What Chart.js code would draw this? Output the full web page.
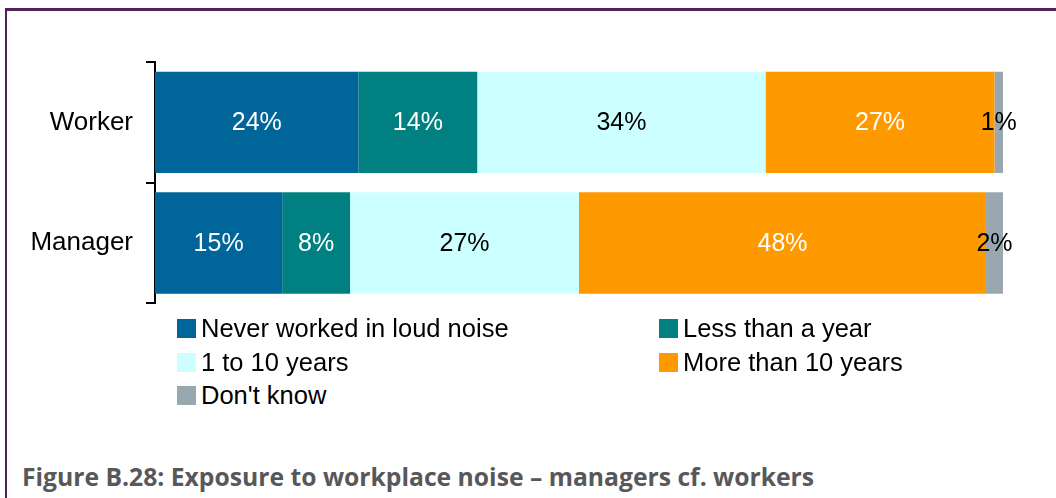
<!DOCTYPE html>
<html>
<head>
<meta charset="utf-8">
<script src="https://cdn.jsdelivr.net/npm/chart.js@4.4.1/dist/chart.umd.min.js"></script>
<style>
  html, body { margin: 0; padding: 0; background: #fff; }
  body { width: 1056px; height: 498px; position: relative; overflow: hidden; }
  .frame-top { position: absolute; left: 5px; top: 8px; width: 1051px; height: 3px; background: #52215c; }
  .frame-left { position: absolute; left: 5px; top: 8px; width: 2px; height: 490px; background: #52215c; }
  #noiseChart { position: absolute; left: 0; top: 0; }
  #legend { position: absolute; left: 0; top: 0; font-family: "Liberation Sans", Arial, sans-serif; font-size: 25.5px; color: #000; }
  .item { position: absolute; white-space: nowrap; line-height: 20px; }
  .item span.box { position: absolute; left: 0; top: 0; width: 19px; height: 19px; }
  .item span.txt { position: absolute; left: 24px; top: -1px; }
  .caption { position: absolute; left: 22px; top: 460px; font-family: "Open Sans", sans-serif; font-weight: 700;
             font-size: 24.7px; color: #58585a; white-space: nowrap; line-height: normal; }
</style>
</head>
<body>
<div class="frame-top"></div>
<div class="frame-left"></div>
<canvas id="noiseChart" width="1056" height="332"></canvas>
<div id="legend"></div>
<div class="caption">Figure B.28: Exposure to workplace noise – managers cf. workers</div>
<script>
// categories and shares (%) of each exposure band
const groups = ['Worker', 'Manager'];
const bands = ['Never worked in loud noise', 'Less than a year', '1 to 10 years', 'More than 10 years', "Don't know"];
const neverValues = [24, 15];
const lessYearValues = [14, 8];
const oneToTenValues = [34, 27];
const moreTenValues = [27, 48];
const dontKnowValues = [1, 2];

const bandColors = ['#006699', '#008080', '#ccffff', '#ff9900', '#99a8b0'];
const labelColors = ['#ffffff', '#ffffff', '#000000', '#ffffff', '#000000'];
const seriesValues = [neverValues, lessYearValues, oneToTenValues, moreTenValues, dontKnowValues];

// value labels centred in each segment
const segmentLabels = {
  id: 'segmentLabels',
  afterDatasetsDraw(chart) {
    const ctx = chart.ctx;
    ctx.save();
    ctx.font = '25px "Liberation Sans", Arial, sans-serif';
    ctx.textAlign = 'center';
    ctx.textBaseline = 'middle';
    chart.data.datasets.forEach((ds, i) => {
      chart.getDatasetMeta(i).data.forEach((bar, j) => {
        ctx.fillStyle = labelColors[i];
        ctx.fillText(ds.data[j] + '%', (bar.base + bar.x) / 2, bar.y + 1);
      });
    });
    ctx.restore();
  }
};

const ctx = document.getElementById('noiseChart').getContext('2d');
const noiseChart = new Chart(ctx, {
  type: 'bar',
  data: {
    labels: groups,
    datasets: bands.map((name, i) => ({
      label: name,
      data: seriesValues[i],
      backgroundColor: bandColors[i],
      borderWidth: 0,
      barPercentage: 0.84,
      categoryPercentage: 1
    }))
  },
  options: {
    indexAxis: 'y',
    responsive: false,
    animation: false,
    layout: { padding: { top: 62, right: 53, bottom: 2, left: 0 } },
    plugins: {
      legend: { display: false },
      tooltip: { enabled: false }
    },
    scales: {
      x: { stacked: true, min: 0, max: 100, display: false },
      y: {
        stacked: true,
        afterFit(scale) { scale.width = 155; },
        border: { display: true, color: '#000', width: 2 },
        grid: { drawOnChartArea: false, tickLength: 9, color: '#000', lineWidth: 2 },
        ticks: { color: '#000', padding: 13, font: { family: '"Liberation Sans", Arial, sans-serif', size: 26 } }
      }
    }
  },
  plugins: [segmentLabels]
});

// two-column legend under the bars
const legendEl = document.getElementById('legend');
const colLeft = [177, 659];
const rowTop = [319, 352.5, 386];
bands.forEach((name, i) => {
  const item = document.createElement('div');
  item.className = 'item';
  item.style.left = colLeft[i % 2] + 'px';
  item.style.top = rowTop[Math.floor(i / 2)] + 'px';
  item.innerHTML = '<span class="box" style="background:' + bandColors[i] + '"></span><span class="txt">' + name + '</span>';
  legendEl.appendChild(item);
});
</script>
</body>
</html>
